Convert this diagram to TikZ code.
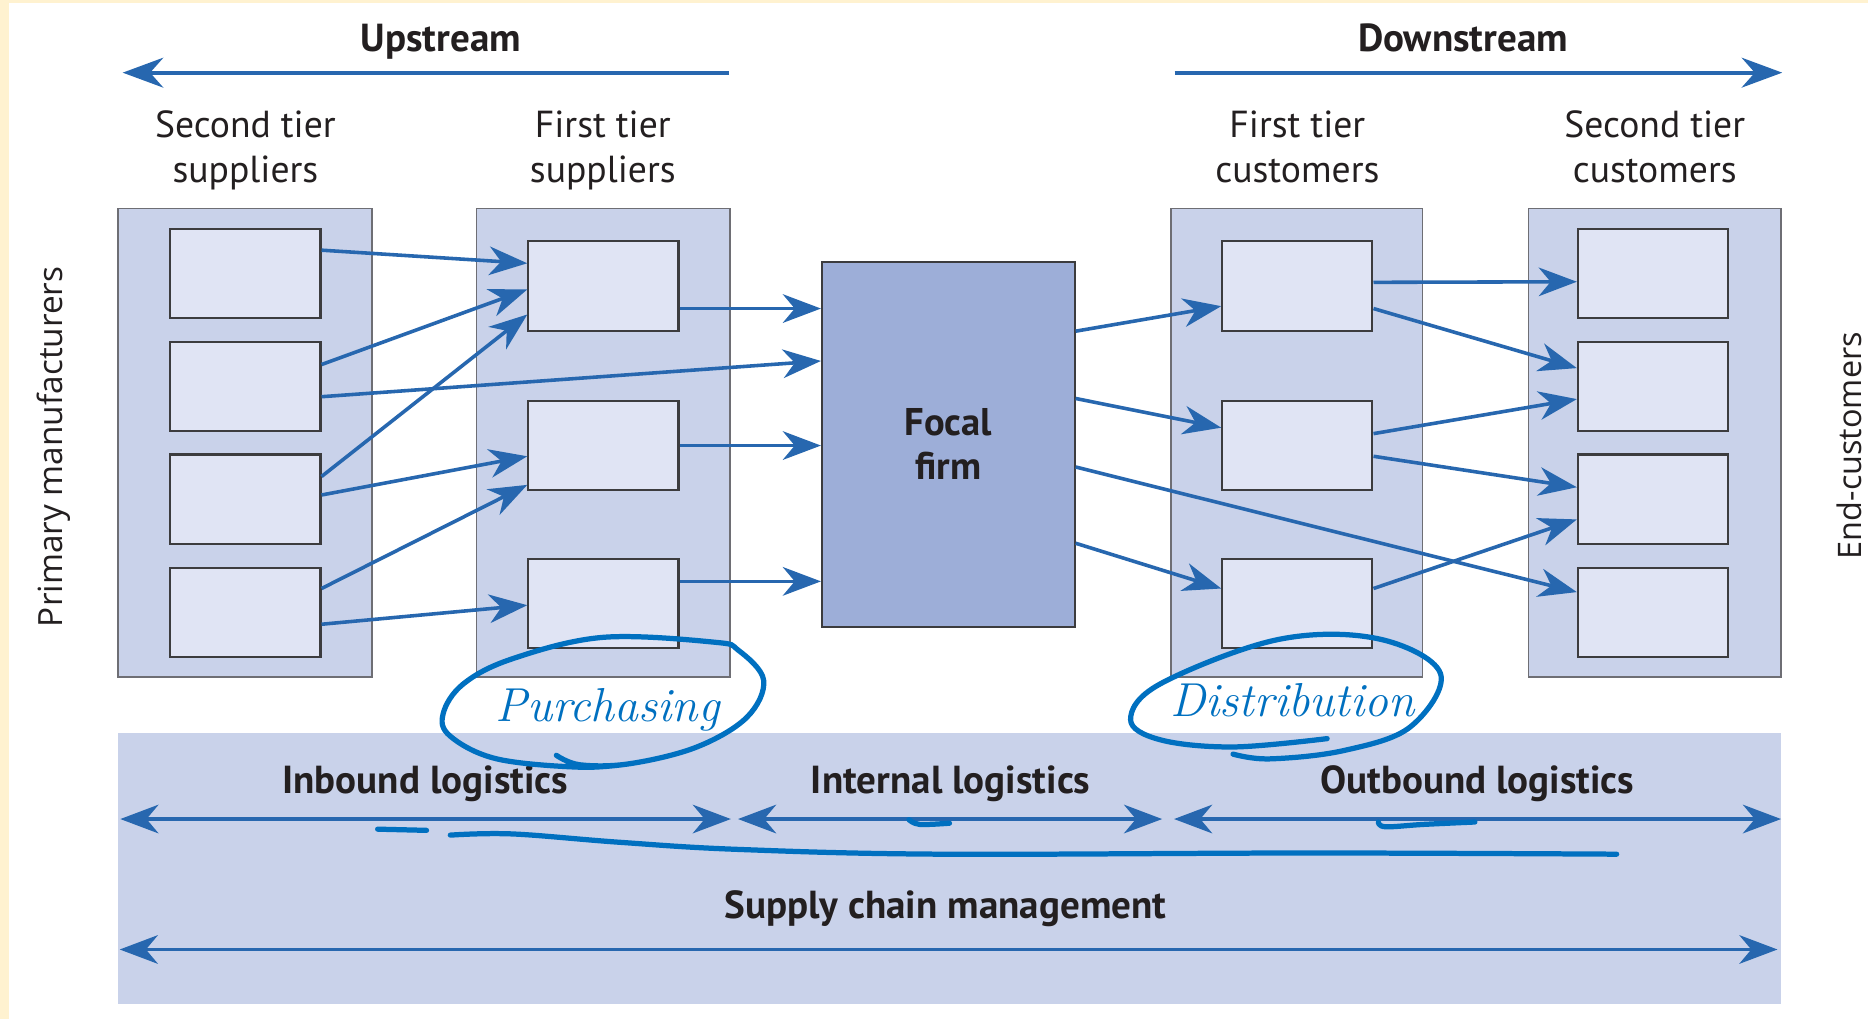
\documentclass[tikz,border=0pt]{standalone}
\usepackage{fontspec}
\newfontfamily\labelfont{PT Sans}
\newfontfamily\sidefont{Open Sans}
\usetikzlibrary{arrows.meta,calc}

\definecolor{flow}{RGB}{39,103,175}
\definecolor{ink}{RGB}{0,112,192}
\definecolor{panel}{RGB}{201,210,234}
\definecolor{cell}{RGB}{224,228,244}
\definecolor{focalfill}{RGB}{157,174,216}
\definecolor{frame}{RGB}{255,242,208}
\definecolor{txt}{RGB}{35,31,32}
\definecolor{edge}{RGB}{60,60,62}
\definecolor{softedge}{RGB}{110,110,116}

\begin{document}
\begin{tikzpicture}[x=0.5pt,y=-0.5pt,
  every node/.style={text=txt},
  plain/.style={font=\labelfont\fontsize{15.8}{19}\selectfont, align=center, inner sep=0pt},
  heading/.style={font=\labelfont\bfseries\fontsize{16.4}{18}\selectfont, align=center, inner sep=0pt},
  side/.style={font=\sidefont\fontsize{14}{16}\selectfont, rotate=90, inner sep=0pt},
  column/.style={draw=softedge, fill=panel, line width=0.8pt, minimum height=196.5pt, inner sep=0pt},
  cellbox/.style={draw=edge, fill=cell, line width=0.9pt, minimum width=63pt, minimum height=37.5pt, inner sep=0pt},
  flowarrow/.style={draw=flow, line width=1.5pt, -{Stealth[length=16pt,width=12pt,inset=5pt]}},
  bigarrow/.style={draw=flow, line width=1.7pt, -{Stealth[length=17pt,width=12.5pt,inset=5.5pt]}},
  twoway/.style={draw=flow, line width=1.5pt, {Stealth[length=16pt,width=12pt,inset=5pt]}-{Stealth[length=16pt,width=12pt,inset=5pt]}},
  pen/.style={draw=ink, line width=2.2pt, line cap=round, line join=round},
  hand/.style={text=ink, font=\rmfamily\itshape\fontsize{20}{20}\selectfont, inner sep=0pt}
]
% page backdrop with the thin tinted margin
\fill[frame] (0,0) rectangle (1568,855);
\fill[white] (7.5,2.5) rectangle (1568,855);
\useasboundingbox (0,0) rectangle (1568,855);

% direction arrows
\node[heading, anchor=base] (upT) at (370,43.5) {Upstream};
\node[heading, anchor=base] (downT) at (1228,43.5) {Downstream};
\coordinate (upR) at (612,61);
\coordinate (upL) at (103,61);
\coordinate (downL) at (986,61);
\coordinate (downR) at (1496,61);
\draw[bigarrow] (upR) -- (upL);
\draw[bigarrow] (downL) -- (downR);

% column titles
\node[plain] (tA) at (206,127) {Second tier\strut\\suppliers\strut};
\node[plain] (tB) at (506,127) {First tier\strut\\suppliers\strut};
\node[plain] (tD) at (1089,127) {First tier\strut\\customers\strut};
\node[plain] (tE) at (1389,127) {Second tier\strut\\customers\strut};

% side labels
\node[side] (pm) at (45,375) {Primary manufacturers};
\node[side, font=\sidefont\fontsize{13.6}{16}\selectfont] (ec) at (1552,374) {End-customers};

% tier columns
\node[column, minimum width=106.5pt] (colA) at (205.5,371.5) {};
\node[column, minimum width=106.5pt] (colB) at (506.5,371.5) {};
\node[column, minimum width=105.5pt] (colD) at (1088.5,371.5) {};
\node[column, minimum width=106pt] (colE) at (1389,371.5) {};

% members of each tier
\node[cellbox] (a1) at (206,229.5) {};
\node[cellbox] (a2) at (206,324.5) {};
\node[cellbox] (a3) at (206,419) {};
\node[cellbox] (a4) at (206,514) {};
\node[cellbox] (b1) at (506.5,240) {};
\node[cellbox] (b2) at (506.5,374) {};
\node[cellbox] (b3) at (506.5,506.5) {};
\node[cellbox] (d1) at (1089,240) {};
\node[cellbox] (d2) at (1089,374) {};
\node[cellbox] (d3) at (1089,506.5) {};
\node[cellbox] (e1) at (1387.5,229.5) {};
\node[cellbox] (e2) at (1387.5,324.5) {};
\node[cellbox] (e3) at (1387.5,419) {};
\node[cellbox] (e4) at (1387.5,514) {};

% focal firm
\node[draw=edge, fill=focalfill, line width=0.9pt, minimum width=106pt, minimum height=153pt, inner sep=0pt,
      font=\labelfont\bfseries\fontsize{16.2}{18.4}\selectfont, align=center] (focal) at (796,373) {Focal\\firm};

% supplier side flows
\draw[flowarrow] ($(a1.east)+(0,-19.5)$) -- ($(b1.west)+(0,-19)$);
\draw[flowarrow] ($(a2.east)+(0,-18.5)$) -- ($(b1.west)+(0,3)$);
\draw[flowarrow] ($(a2.east)+(0,8.5)$) -- ($(focal.west)+(0,-70)$);
\draw[flowarrow] ($(a3.east)+(0,-19)$) -- ($(b1.west)+(0,24)$);
\draw[flowarrow] ($(a3.east)+(0,-3.5)$) -- ($(b2.west)+(0,9)$);
\draw[flowarrow] ($(a4.east)+(0,-20)$) -- ($(b2.west)+(0,33)$);
\draw[flowarrow] ($(a4.east)+(0,10)$) -- ($(b3.west)+(0,1.5)$);
\draw[flowarrow] ($(b1.east)+(0,19)$) -- ($(focal.west)+(0,-114)$);
\draw[flowarrow] (b2.east) -- (b2.east -| focal.west);
\draw[flowarrow] ($(b3.east)+(0,-18.5)$) -- ($(focal.west)+(0,115)$);

% customer side flows
\draw[flowarrow] ($(focal.east)+(0,-95)$) -- ($(d1.west)+(0,17)$);
\draw[flowarrow] ($(focal.east)+(0,-38.5)$) -- ($(d2.west)+(0,-15)$);
\draw[flowarrow] ($(focal.east)+(0,19)$) -- ($(e4.west)+(0,-17)$);
\draw[flowarrow] ($(focal.east)+(0,83)$) -- ($(d3.west)+(0,-12.5)$);
\draw[flowarrow] ($(d1.east)+(0,-3)$) -- ($(e1.west)+(0,7)$);
\draw[flowarrow] ($(d1.east)+(0,19)$) -- ($(e2.west)+(0,-15.5)$);
\draw[flowarrow] ($(d2.east)+(0,-10)$) -- ($(e2.west)+(0,10.5)$);
\draw[flowarrow] ($(d2.east)+(0,9)$) -- ($(e3.west)+(0,-10)$);
\draw[flowarrow] ($(d3.east)+(0,-12.5)$) -- ($(e3.west)+(0,17)$);

% logistics band
\node[fill=panel, minimum width=698pt, minimum height=113.5pt, inner sep=0pt] (band) at (797,729) {};
\node[heading] (inb) at (357,658) {Inbound logistics};
\node[heading] (intl) at (798,658) {Internal logistics};
\node[heading] (outb) at (1240,658) {Outbound logistics};
\node[heading] (scm) at (793.5,763) {Supply chain management};
\coordinate (inL) at (101,687.5);
\coordinate (inR) at (613.5,687.5);
\coordinate (itL) at (619.5,687.5);
\coordinate (itR) at (975.5,687.5);
\coordinate (obL) at (985.5,687.5);
\coordinate (obR) at (1495,687.5);
\coordinate (scL) at (100.5,797);
\coordinate (scR) at (1492,797);
\draw[twoway] (inL) -- (inR);
\draw[twoway] (itL) -- (itR);
\draw[twoway] (obL) -- (obR);
\draw[twoway] (scL) -- (scR);

% pen notes
\node[hand] (purch) at (510,596) {Purchasing};
\draw[pen] plot[smooth, tension=0.6] coordinates {(467,634) (487,642) (529,641) (585,627) (627,602) (641,571) (620,546) (599,539) (506,535) (430,553) (389,574) (372,599) (378,618) (417,637) (487,644) (529,641)};
\node[hand] (distr) at (1085,588) {Distribution};
\draw[pen] plot[smooth, tension=0.6] coordinates {(1114,620) (1035,627) (974,621) (949,604) (974,574) (1072,537) (1156,536) (1209,565) (1184,610) (1128,630) (1066,637) (1035,633)};
\draw[pen] (317,696) -- (358,697);
\draw[pen] plot[smooth, tension=0.6] coordinates {(378,701) (430,700) (520,707) (620,713) (790,717) (1100,716) (1357,717)};
\draw[pen] plot[smooth, tension=0.6] coordinates {(763,688) (772,692) (797,691)};
\draw[pen] plot[smooth, tension=0.6] coordinates {(1157,690) (1163,694) (1195,692) (1238,690)};
\end{tikzpicture}
\end{document}
